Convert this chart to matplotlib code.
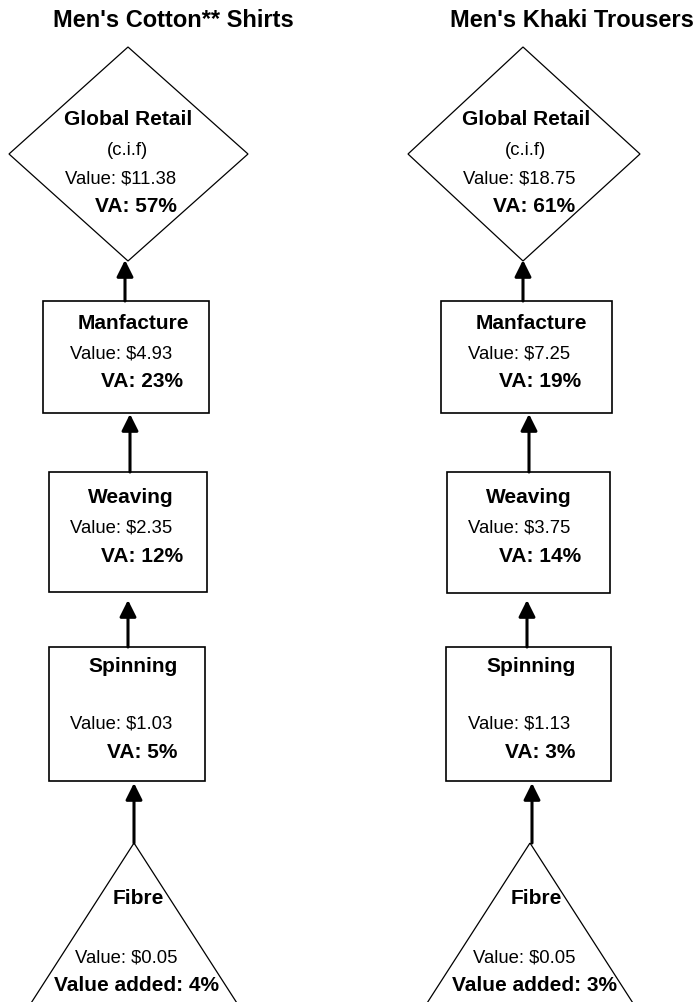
import matplotlib
matplotlib.use('Agg')
import matplotlib.pyplot as plt
from matplotlib.patches import Rectangle, Polygon

plt.rcParams['font.family'] = ['Liberation Sans', 'DejaVu Sans']

# data
products = ["Men's Cotton** Shirts", "Men's Khaki Trousers"]
stages = ['Global Retail', 'Manfacture', 'Weaving', 'Spinning', 'Fibre']
values = [[11.38, 4.93, 2.35, 1.03, 0.05],
          [18.75, 7.25, 3.75, 1.13, 0.05]]
va_pct = [[57, 23, 12, 5, 4],
          [61, 19, 14, 3, 3]]

# layout (pixel coords, y down)
W, H = 697, 1002
col_dx = [0, 398]
title_x = [173, 572]

fig = plt.figure(figsize=(W / 100, H / 100), dpi=100)
ax = fig.add_axes([0, 0, 1, 1])
ax.set_xlim(0, W)
ax.set_ylim(H, 0)
ax.axis('off')

reg = 13.3
bold = 15

for c in range(2):
    dx = col_dx[c]
    v = values[c]
    p = va_pct[c]
    ax.text(title_x[c], 27, products[c], ha='center', va='baseline',
            fontsize=17, fontweight='bold')

    # diamond
    if c == 0:
        dia = [(128, 47), (248, 154), (128, 261), (9, 154)]
    else:
        dia = [(523, 47), (640, 154), (523, 261), (408, 154)]
    ax.add_patch(Polygon(dia, closed=True, fill=False, ec='black', lw=0.9))
    ax.text(128 + dx, 125, stages[0], ha='center', va='baseline', fontsize=bold, fontweight='bold')
    ax.text(127 + dx, 155, '(c.i.f)', ha='center', va='baseline', fontsize=reg)
    ax.text(121 + dx, 183, f'Value: \\${v[0]:.2f}', ha='center', va='baseline', fontsize=reg)
    ax.text(136 + dx, 212, f'VA: {p[0]}%', ha='center', va='baseline', fontsize=bold, fontweight='bold')

    # boxes
    boxes = [(43, 209, 301, 413), (49, 207, 472, 592), (49, 205, 647, 781)]
    if c == 1:
        boxes = [(441, 612, 301, 413), (447, 610, 472, 593), (446, 611, 647, 781)]
    for (x0, x1, y0, y1) in boxes:
        ax.add_patch(Rectangle((x0, y0), x1 - x0, y1 - y0, fill=False, ec='black', lw=1.2))

    # box texts: (name y, value y, va y), (name x, value x, va x)
    rows = [(329, 358, 387), (503, 532, 562), (672, 728, 758)]
    xs = [(133, 121, 142), (131, 121, 142), (133, 121, 142)]
    for i in range(3):
        k = i + 1
        ax.text(xs[i][0] + dx, rows[i][0], stages[k], ha='center', va='baseline',
                fontsize=bold, fontweight='bold')
        ax.text(xs[i][1] + dx, rows[i][1], f'Value: \\${v[k]:.2f}', ha='center', va='baseline',
                fontsize=reg)
        ax.text(xs[i][2] + dx, rows[i][2], f'VA: {p[k]}%', ha='center', va='baseline',
                fontsize=bold, fontweight='bold')

    # triangle (fibre), base runs past the bottom edge
    ax_ = 134 + (396 if c == 1 else 0)
    ax.add_patch(Polygon([(ax_, 843), (ax_ + 128, 1042), (ax_ - 128, 1042)],
                         closed=True, fill=False, ec='black', lw=0.9))
    ax.text(138 + dx - (0 if c == 0 else 0), 904, stages[4], ha='center', va='baseline',
            fontsize=bold, fontweight='bold')
    ax.text(126 + dx, 963, f'Value: \\${v[4]:.2f}', ha='center', va='baseline', fontsize=reg)
    ax.text(137 + dx, 991, f'Value added: {p[4]}%', ha='center', va='baseline',
            fontsize=bold, fontweight='bold')

    # arrows (x, tail y, tip y)
    arrows = [(125, 301, 260), (130, 472, 414), (128, 647, 600), (134, 843, 783)]
    if c == 1:
        arrows = [(523, 301, 260), (529, 472, 414), (527, 647, 600), (532, 843, 783)]
    for (x, yt, yh) in arrows:
        ax.annotate('', xy=(x, yh), xytext=(x, yt),
                    arrowprops=dict(arrowstyle='-|>,head_length=1.0,head_width=0.5',
                                    mutation_scale=10, lw=2.2, color='black',
                                    shrinkA=0, shrinkB=0))

fig.savefig('out.png', dpi=100)
